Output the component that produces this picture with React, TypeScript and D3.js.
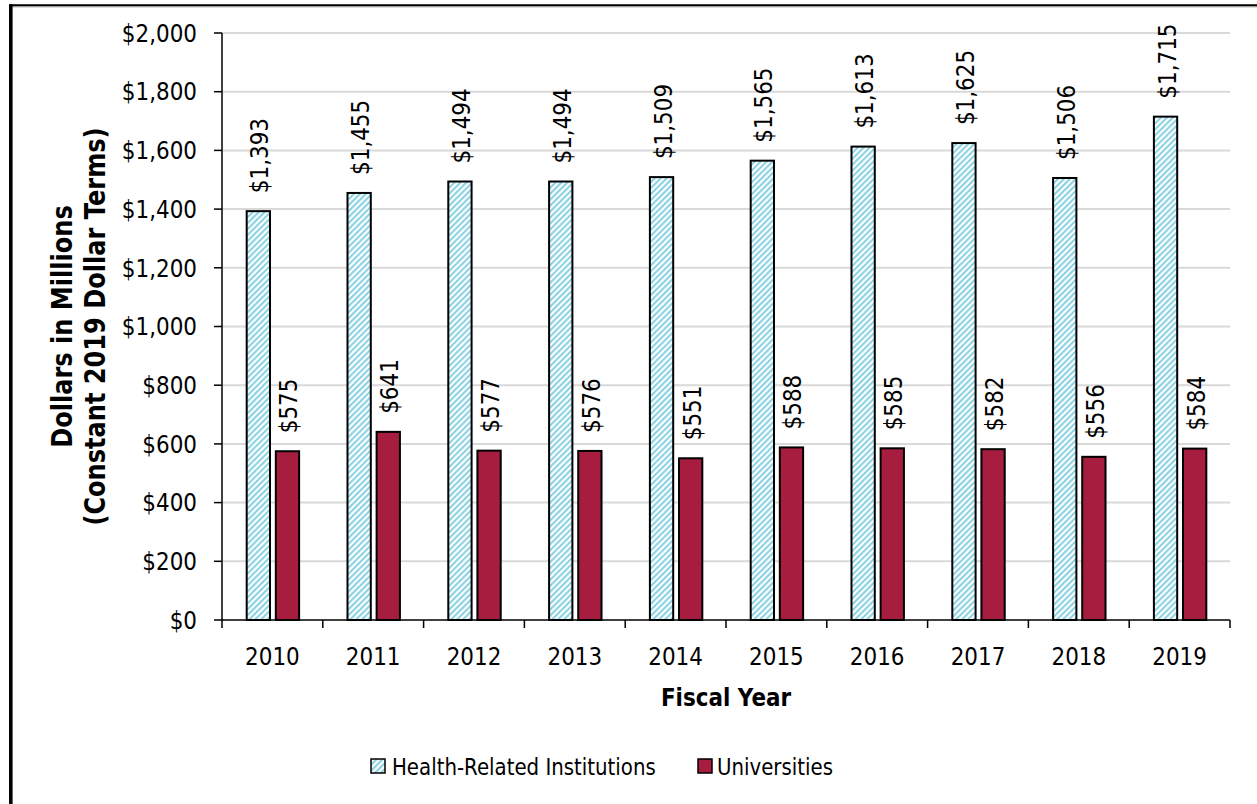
import React from "react";
import * as d3 from "d3";

const years = ["2010", "2011", "2012", "2013", "2014", "2015", "2016", "2017", "2018", "2019"];
const healthValues = [1393, 1455, 1494, 1494, 1509, 1565, 1613, 1625, 1506, 1715];
const univValues = [575, 641, 577, 576, 551, 588, 585, 582, 556, 584];
const seriesKeys = ["Health-Related Institutions", "Universities"];
const yTicks = [0, 200, 400, 600, 800, 1000, 1200, 1400, 1600, 1800, 2000];

const W = 1257;
const H = 804;
const FONT = "'DejaVu Sans', Verdana, sans-serif";
const SX = 0.86;
const UNIV = "#A61D40";
const HATCH = "#8BD2E3";

const fmt = (v: number) => "$" + d3.format(",")(v);

function HText(props: { x: number; y: number; size: number; anchor?: string; bold?: boolean; children: React.ReactNode; dy?: string }) {
  const { x, y, size, anchor = "start", bold, children, dy } = props;
  return (
    <text
      transform={`translate(${x},${y}) scale(${SX},1)`}
      fontFamily={FONT}
      fontSize={size}
      fontWeight={bold ? "bold" : "normal"}
      textAnchor={anchor}
      dy={dy}
      fill="#000"
    >
      {children}
    </text>
  );
}

function VText(props: { x: number; y: number; size: number; anchor?: string; bold?: boolean; children: React.ReactNode; dy?: string }) {
  const { x, y, size, anchor = "start", bold, children, dy } = props;
  return (
    <text
      transform={`translate(${x},${y}) rotate(-90) scale(${SX},1)`}
      fontFamily={FONT}
      fontSize={size}
      fontWeight={bold ? "bold" : "normal"}
      textAnchor={anchor}
      dy={dy}
      fill="#000"
    >
      {children}
    </text>
  );
}

export default function App() {
  const left = 222;
  const right = 1230;
  const top = 33;
  const bottom = 620;

  const x0 = d3.scaleBand<string>().domain(years).range([left, right]).padding(0);
  const bw = x0.bandwidth();
  const x1 = d3
    .scaleBand<string>()
    .domain(seriesKeys)
    .range([bw * 0.245, bw * 0.765])
    .paddingInner(0.2);
  const y = d3.scaleLinear().domain([0, 2000]).range([bottom, top]);

  const series = [
    { key: seriesKeys[0], values: healthValues, fill: "url(#hatch)" },
    { key: seriesKeys[1], values: univValues, fill: UNIV },
  ];

  return (
    <svg width={W} height={H} style={{ position: "absolute", left: 0, top: 0, background: "#fff" }}>
      <defs>
        <pattern id="hatch" patternUnits="userSpaceOnUse" width="4.2" height="4.2" patternTransform="rotate(45)">
          <rect x="0" y="0" width="4.2" height="4.2" fill="#fff" />
          <rect x="0" y="0" width="2.1" height="4.2" fill={HATCH} />
        </pattern>
      </defs>
      <rect x={0} y={0} width={W} height={H} fill="#fff" />

      {/* frame */}
      <line x1={9} x2={W} y1={5.3} y2={5.3} stroke="#000" strokeWidth={2.2} />
      <line x1={9} x2={W} y1={7} y2={7} stroke="#bbb" strokeWidth={1} />
      <rect x={9} y={4.3} width={3.6} height={H} fill="#000" />

      {/* gridlines */}
      {yTicks.map((t) =>
        t === 0 ? null : (
          <line key={"g" + t} x1={left} x2={right} y1={y(t)} y2={y(t)} stroke="#d9d9d9" strokeWidth={2} />
        )
      )}

      {/* y axis */}
      <line x1={left} x2={left} y1={top} y2={bottom} stroke="#000" strokeWidth={1.5} />
      {yTicks.map((t) => (
        <g key={"yt" + t}>
          <line x1={left - 8} x2={left} y1={y(t)} y2={y(t)} stroke="#000" strokeWidth={1.5} />
          <HText x={197} y={y(t)} size={25} anchor="end" dy="0.35em">
            {fmt(t)}
          </HText>
        </g>
      ))}

      {/* bars */}
      {series.map((s) =>
        years.map((yr, i) => {
          const bx = (x0(yr) as number) + (x1(s.key) as number);
          const by = y(s.values[i]);
          return (
            <g key={s.key + yr}>
              <rect
                x={bx}
                y={by}
                width={x1.bandwidth()}
                height={bottom - by}
                fill={s.fill}
                stroke="#000"
                strokeWidth={2}
              />
              <VText x={bx + x1.bandwidth() / 2 + 1} y={by - 18} size={25} dy="0.36em">
                {fmt(s.values[i])}
              </VText>
            </g>
          );
        })
      )}

      {/* x axis */}
      <line x1={left} x2={right} y1={bottom} y2={bottom} stroke="#000" strokeWidth={1.5} />
      {[...years.map((yr) => x0(yr) as number), right].map((xv, i) => (
        <line key={"xt" + i} x1={xv} x2={xv} y1={bottom} y2={bottom + 8} stroke="#000" strokeWidth={1.5} />
      ))}
      {years.map((yr) => (
        <HText key={"xl" + yr} x={(x0(yr) as number) + bw / 2} y={665} size={25} anchor="middle">
          {yr}
        </HText>
      ))}

      {/* axis titles */}
      <HText x={(left + right) / 2} y={706} size={25} anchor="middle" bold>
        Fiscal Year
      </HText>
      <VText x={62} y={(top + bottom) / 2} size={28} anchor="middle" bold dy="0.36em">
        Dollars in Millions
      </VText>
      <VText x={95} y={(top + bottom) / 2} size={28} anchor="middle" bold dy="0.36em">
        (Constant 2019 Dollar Terms)
      </VText>

      {/* legend */}
      <rect x={371} y={759} width={14} height={14} fill="url(#hatch)" stroke="#000" strokeWidth={1.5} />
      <HText x={392} y={775} size={23}>
        {seriesKeys[0]}
      </HText>
      <rect x={698} y={759} width={14} height={14} fill={UNIV} stroke="#000" strokeWidth={1.5} />
      <HText x={717} y={775} size={23}>
        {seriesKeys[1]}
      </HText>
    </svg>
  );
}
